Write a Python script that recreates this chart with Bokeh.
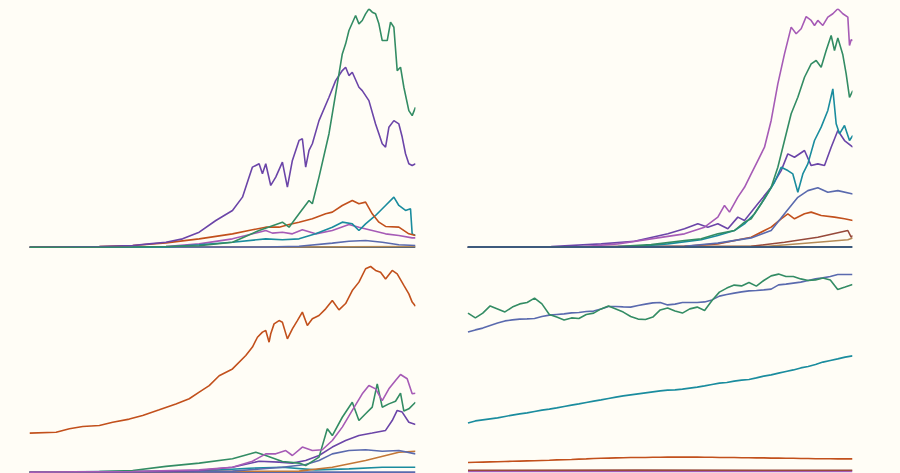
from bokeh.plotting import figure
from bokeh.layouts import gridplot
from bokeh.models import Range1d, GlobalInlineStyleSheet
from bokeh.embed import file_html
from bokeh.resources import INLINE

BG = "#fffdf6"
GREEN = "#338c64"
PURPLE = "#6b45a8"
ORANGE = "#c2501c"
TEAL = "#1a8c9e"
MAGENTA = "#a65bb6"
SLATE = "#5a6aae"
BROWN = "#96493a"
TAN = "#b48a55"
OCHRE = "#c27636"
NAVY = "#3d5a7c"

# ---------------- top-left panel (weeks, index) ----------------
tl_green_x = [0, 62, 82, 102, 122, 138, 152, 156, 162, 168, 170, 174, 180, 184, 188, 190, 192, 196, 198, 200, 202, 204, 206, 208, 210, 212, 215, 217, 219, 221, 223, 225, 228, 230, 232]
tl_green_y = [0, 0.1, 0.3, 0.6, 2.1, 7.0, 10.5, 8.4, 14.0, 19.6, 18.2, 29.4, 47.6, 64.3, 81.1, 85.3, 90.9, 97.2, 93.7, 95.1, 97.9, 100, 98.6, 97.9, 93.7, 86.7, 86.7, 94.4, 92.3, 74.1, 75.5, 67.1, 57.3, 55.2, 58.7]
tl_purple_x = [0, 42, 62, 72, 82, 92, 102, 112, 122, 128, 132, 134, 136, 138, 140, 142, 145, 148, 152, 155, 158, 160, 162, 164, 166, 168, 170, 174, 180, 184, 188, 190, 192, 194, 198, 200, 202, 204, 208, 210, 212, 214, 216, 219, 222, 224, 226, 228, 230, 232]
tl_purple_y = [0, 0.3, 0.7, 1.4, 2.1, 3.5, 6.3, 11.2, 15.4, 21.0, 29.4, 33.6, 34.3, 35.0, 30.8, 35.0, 25.9, 29.4, 35.7, 25.2, 36.4, 40.6, 44.8, 45.5, 33.6, 40.6, 43.4, 53.1, 62.9, 69.9, 74.1, 75.5, 72.0, 73.4, 67.1, 65.7, 63.6, 61.5, 51.7, 47.6, 43.4, 42.0, 50.3, 53.1, 51.7, 46.2, 39.2, 35.0, 34.3, 35.0]
tl_orange_x = [0, 42, 62, 82, 102, 122, 134, 142, 150, 156, 162, 170, 178, 182, 188, 194, 198, 202, 206, 210, 214, 222, 228, 232]
tl_orange_y = [0, 0.3, 0.7, 1.8, 3.5, 5.6, 7.3, 8.4, 8.4, 9.5, 10.5, 11.9, 14.0, 14.7, 17.5, 19.6, 18.2, 18.9, 14.0, 10.5, 8.7, 8.4, 5.6, 4.9]
tl_teal_x = [0, 82, 102, 122, 142, 152, 162, 172, 182, 188, 194, 198, 202, 208, 214, 219, 222, 226, 229, 230, 232]
tl_teal_y = [0, 0.1, 1.0, 2.1, 3.5, 3.1, 3.5, 5.6, 8.4, 10.5, 9.8, 7.0, 9.8, 13.3, 17.5, 21.0, 17.5, 15.4, 16.1, 5.6, 4.9]
tl_magenta_x = [0, 82, 102, 122, 138, 142, 146, 152, 158, 164, 172, 182, 192, 198, 206, 214, 222, 230, 232]
tl_magenta_y = [0, 0.3, 1.4, 3.5, 6.3, 7.0, 5.9, 6.3, 5.6, 7.3, 5.6, 7.0, 9.5, 8.4, 7.0, 5.6, 4.9, 3.9, 3.9]
tl_slate_x = [0, 142, 162, 182, 192, 202, 212, 222, 232]
tl_slate_y = [0, 0.1, 0.4, 1.7, 2.5, 2.8, 2.1, 1.0, 0.7]
tl_brown_x = [0, 150, 232]
tl_brown_y = [0, 0.1, 0.3]
tl_navy_x = [0, 232]
tl_navy_y = [0, 0]

# ---------------- top-right panel ----------------
tr_magenta_x = [0, 70, 90, 110, 130, 142, 150, 154, 157, 162, 166, 170, 174, 178, 182, 186, 190, 194, 197, 200, 203, 206, 208, 210, 213, 216, 219, 222, 225, 228, 229, 230, 231]
tr_magenta_y = [0, 0.3, 1.4, 3.5, 5.6, 8.4, 12.6, 17.5, 14.7, 21.0, 25.1, 30.7, 36.3, 41.9, 53.1, 68.4, 81.0, 92.2, 89.4, 91.5, 96.6, 95.0, 92.9, 95.0, 92.9, 96.4, 97.8, 99.9, 97.8, 96.4, 84.5, 86.9, 86.6]
tr_green_x = [0, 90, 110, 130, 140, 150, 160, 166, 170, 176, 182, 186, 190, 194, 198, 202, 206, 209, 212, 215, 218, 220, 222, 225, 227, 229, 231]
tr_green_y = [0, 0.3, 1.1, 2.8, 3.5, 5.6, 7.0, 10.5, 11.9, 18.2, 25.1, 33.5, 44.7, 55.9, 62.8, 71.2, 76.8, 78.2, 75.4, 82.4, 88.7, 82.4, 87.7, 80.6, 72.6, 62.8, 65.6]
tr_teal_x = [0, 100, 120, 140, 150, 160, 166, 172, 178, 184, 188, 192, 195, 198, 201, 204, 208, 212, 216, 219, 221, 223, 226, 229, 231]
tr_teal_y = [0, 0.3, 1.4, 3.1, 4.9, 7.0, 9.8, 14.0, 20.3, 27.2, 33.5, 32.1, 30.7, 23.0, 30.7, 34.9, 44.7, 50.3, 57.3, 66.3, 51.7, 47.5, 51.0, 44.7, 46.8]
tr_purple_x = [0, 50, 80, 100, 120, 130, 138, 144, 150, 156, 162, 166, 174, 182, 188, 192, 196, 202, 206, 210, 214, 218, 222, 226, 231]
tr_purple_y = [0, 0.3, 1.4, 2.5, 5.6, 7.7, 9.8, 8.4, 9.8, 7.7, 12.6, 11.2, 18.2, 25.1, 32.1, 39.1, 37.7, 40.5, 34.2, 34.9, 34.2, 41.9, 48.9, 44.7, 41.9]
tr_slate_x = [0, 130, 150, 170, 182, 190, 198, 204, 210, 216, 222, 231]
tr_slate_y = [0, 0.4, 1.7, 3.9, 7.0, 14.0, 20.9, 23.7, 24.9, 23.0, 23.7, 22.3]
tr_orange_x = [0, 130, 150, 170, 182, 188, 192, 196, 202, 206, 212, 220, 226, 231]
tr_orange_y = [0, 0.4, 1.4, 4.2, 8.4, 11.9, 14.0, 11.9, 14.0, 14.7, 13.3, 12.6, 11.9, 11.2]
tr_brown_x = [0, 170, 190, 210, 228, 230, 231]
tr_brown_y = [0, 0.4, 2.1, 4.2, 7.0, 4.2, 4.9]
tr_tan_x = [0, 180, 210, 228, 231]
tr_tan_y = [0, 0.4, 2.1, 3.1, 3.9]
tr_navy_x = [0, 231]
tr_navy_y = [0, 0]

# ---------------- bottom-left panel ----------------
bl_orange_x = [0, 16, 24, 32, 42, 50, 60, 68, 78, 88, 96, 102, 108, 114, 122, 130, 134, 137, 140, 142, 144, 145, 147, 150, 152, 155, 158, 161, 164, 167, 170, 174, 178, 182, 186, 190, 194, 198, 202, 205, 208, 211, 214, 218, 221, 225, 228, 230, 232]
bl_orange_y = [19.0, 19.4, 21.1, 22.2, 22.7, 24.3, 25.8, 27.6, 30.3, 33.2, 35.7, 38.9, 42.1, 46.9, 50.2, 56.7, 60.8, 65.6, 68.1, 68.9, 63.2, 67.3, 72.1, 73.7, 72.9, 64.8, 69.7, 73.7, 77.8, 71.3, 74.6, 76.2, 79.4, 83.5, 78.9, 82.0, 88.3, 92.4, 98.9, 100, 98.1, 97.2, 93.9, 98.1, 96.4, 90.8, 86.7, 82.7, 80.7]
bl_magenta_x = [0, 62, 102, 122, 134, 142, 148, 154, 158, 164, 170, 176, 182, 188, 194, 200, 204, 208, 212, 216, 220, 223, 227, 230, 232]
bl_magenta_y = [0, 0.3, 1.1, 2.4, 5.3, 8.9, 8.9, 10.5, 8.1, 12.2, 10.5, 10.9, 15.4, 21.9, 30.0, 38.1, 42.1, 40.5, 34.8, 40.5, 44.6, 47.5, 45.4, 38.1, 38.4]
bl_green_x = [0, 42, 62, 82, 102, 122, 136, 142, 152, 162, 166, 174, 179, 182, 188, 194, 198, 202, 206, 209, 212, 216, 220, 223, 225, 228, 232]
bl_green_y = [0, 0.3, 0.8, 2.8, 4.4, 6.5, 9.7, 8.1, 5.2, 4.4, 3.2, 7.3, 21.1, 17.8, 26.7, 34.0, 25.1, 28.4, 31.6, 42.9, 31.6, 33.2, 34.5, 38.4, 29.7, 30.8, 34.0]
bl_purple_x = [0, 82, 102, 122, 138, 150, 158, 166, 174, 182, 190, 198, 206, 214, 218, 221, 224, 228, 232]
bl_purple_y = [0, 0.3, 0.8, 2.4, 5.3, 4.9, 4.4, 5.7, 8.1, 12.2, 15.4, 17.8, 19.0, 20.3, 25.1, 30.0, 29.2, 24.3, 23.2]
bl_slate_x = [0, 122, 152, 166, 174, 182, 192, 202, 212, 222, 232]
bl_slate_y = [0, 0.5, 2.4, 3.7, 5.7, 8.9, 10.5, 10.9, 10.2, 10.5, 8.9]
bl_ochre_x = [0, 162, 182, 202, 222, 232]
bl_ochre_y = [0, 0.5, 2.4, 5.7, 9.7, 10.2]
bl_teal_x = [0, 102, 132, 152, 172, 192, 212, 232]
bl_teal_y = [0, 0.5, 1.9, 2.4, 1.1, 1.6, 2.4, 2.4]
bl_navy_x = [0, 232]
bl_navy_y = [0, 0]

# ---------------- bottom-right panel (years) ----------------
br_years = list(range(1967, 2020))
br_green = [79.2, 76.8, 79.2, 82.8, 81.3, 79.8, 82.2, 83.8, 84.5, 86.7,
            83.8, 78.5, 77.2, 75.8, 76.8, 76.5, 78.5, 79.2, 81.3, 82.7,
            81.3, 79.7, 77.5, 76.2, 76.0, 77.2, 80.8, 81.8, 80.2, 79.2,
            81.3, 82.2, 80.5, 85.5, 89.7, 91.7, 93.2, 92.8, 94.5, 92.7,
            95.5, 97.8, 98.7, 97.5, 97.5, 96.3, 95.5, 95.8, 96.8, 95.8,
            91.0, 92.2, 93.5]
br_slate = [69.7, 70.8, 71.7, 73.0, 74.2, 75.3, 75.8, 76.2, 76.3, 76.5,
            77.5, 78.2, 78.5, 78.8, 79.3, 79.5, 80.0, 80.2, 81.3, 82.5,
            82.5, 82.3, 82.2, 83.0, 83.7, 84.3, 84.5, 83.3, 83.7, 84.5,
            84.5, 84.5, 84.8, 85.8, 87.7, 88.5, 89.2, 89.8, 90.3, 90.5,
            90.8, 91.2, 93.3, 93.7, 94.2, 94.7, 95.5, 96.3, 96.8, 97.5,
            98.5, 98.5, 98.5]
br_teal = [24.2, 25.3, 25.8, 26.3, 26.8, 27.5, 28.2, 28.8, 29.3, 30.0,
           30.7, 31.2, 31.8, 32.5, 33.2, 33.8, 34.5, 35.2, 35.8, 36.5,
           37.2, 37.8, 38.3, 38.8, 39.3, 39.8, 40.3, 40.7, 40.8, 41.2,
           41.7, 42.2, 42.8, 43.5, 44.2, 44.5, 45.2, 45.7, 46.0, 46.8,
           47.7, 48.3, 49.2, 50.0, 50.8, 51.8, 52.5, 53.5, 54.7, 55.5,
           56.3, 57.2, 57.8]
br_orange = [4.5, 4.6, 4.7, 4.8, 4.9, 5.0, 5.1, 5.2, 5.3, 5.4,
             5.5, 5.6, 5.8, 5.9, 6.0, 6.2, 6.3, 6.5, 6.6, 6.7,
             6.8, 6.9, 7.0, 7.0, 7.0, 7.1, 7.1, 7.2, 7.2, 7.2,
             7.2, 7.2, 7.1, 7.1, 7.0, 7.0, 7.0, 6.9, 6.9, 6.8,
             6.8, 6.7, 6.7, 6.6, 6.6, 6.5, 6.5, 6.4, 6.4, 6.4,
             6.3, 6.3, 6.3]
br_brown_x = [1967, 1990, 2019]
br_brown_y = [0.6, 0.7, 0.6]
br_purple_x = [1967, 2019]
br_purple_y = [0.1, 0.1]

LW = 1.6


def make_fig(xr, yr, height):
    p = figure(width=437, height=height, x_range=Range1d(*xr), y_range=Range1d(*yr),
               x_axis_location=None, y_axis_location=None, toolbar_location=None,
               output_backend="svg", min_border_left=21, min_border_right=30,
               min_border_top=0, min_border_bottom=0,
               background_fill_color=BG, border_fill_color=BG, outline_line_color=None)
    p.grid.visible = False
    return p


p1 = make_fig((0, 232), (-0.55, 100.14), 240)
p1.line(tl_navy_x, tl_navy_y, line_color=NAVY, line_width=2)
p1.line(tl_brown_x, tl_brown_y, line_color=TAN, line_width=LW)
p1.line(tl_slate_x, tl_slate_y, line_color=SLATE, line_width=LW)
p1.line(tl_magenta_x, tl_magenta_y, line_color=MAGENTA, line_width=LW)
p1.line(tl_teal_x, tl_teal_y, line_color=TEAL, line_width=LW)
p1.line(tl_orange_x, tl_orange_y, line_color=ORANGE, line_width=LW)
p1.line(tl_purple_x, tl_purple_y, line_color=PURPLE, line_width=LW)
p1.line(tl_green_x, tl_green_y, line_color=GREEN, line_width=LW)

p2 = make_fig((-0.8, 230.8), (-0.54, 100.0), 240)
p2.line(tr_tan_x, tr_tan_y, line_color=TAN, line_width=LW)
p2.line(tr_brown_x, tr_brown_y, line_color=BROWN, line_width=LW)
p2.line(tr_orange_x, tr_orange_y, line_color=ORANGE, line_width=LW)
p2.line(tr_slate_x, tr_slate_y, line_color=SLATE, line_width=LW)
p2.line(tr_purple_x, tr_purple_y, line_color=PURPLE, line_width=LW)
p2.line(tr_teal_x, tr_teal_y, line_color=TEAL, line_width=LW)
p2.line(tr_green_x, tr_green_y, line_color=GREEN, line_width=LW)
p2.line(tr_magenta_x, tr_magenta_y, line_color=MAGENTA, line_width=LW)
p2.line(tr_navy_x, tr_navy_y, line_color=NAVY, line_width=2.2)

p3 = make_fig((0, 232), (-0.65, 108.75), 225)
p3.line(bl_navy_x, bl_navy_y, line_color=SLATE, line_width=2)
p3.line(bl_teal_x, bl_teal_y, line_color=TEAL, line_width=LW)
p3.line(bl_ochre_x, bl_ochre_y, line_color=OCHRE, line_width=LW)
p3.line(bl_slate_x, bl_slate_y, line_color=SLATE, line_width=LW)
p3.line(bl_purple_x, bl_purple_y, line_color=PURPLE, line_width=LW)
p3.line(bl_green_x, bl_green_y, line_color=GREEN, line_width=LW)
p3.line(bl_magenta_x, bl_magenta_y, line_color=MAGENTA, line_width=LW)
p3.line(bl_orange_x, bl_orange_y, line_color=ORANGE, line_width=LW)

p4 = make_fig((1966.8, 2019.0), (-1.0, 111.5), 225)
p4.line(br_purple_x, br_purple_y, line_color=MAGENTA, line_width=2)
p4.line(br_brown_x, br_brown_y, line_color=BROWN, line_width=LW)
p4.line(br_years, br_orange, line_color=ORANGE, line_width=LW)
p4.line(br_years, br_teal, line_color=TEAL, line_width=LW)
p4.line(br_years, br_slate, line_color=SLATE, line_width=LW)
p4.line(br_years, br_green, line_color=GREEN, line_width=LW)

grid = gridplot([[p1, p2], [p3, p4]], toolbar_location=None)
grid.stylesheets = [GlobalInlineStyleSheet(css="html { background: %s; } body { background: %s; margin: 8px; overflow: hidden; }" % (BG, BG))]

open("out.html", "w").write(file_html(grid, INLINE))
